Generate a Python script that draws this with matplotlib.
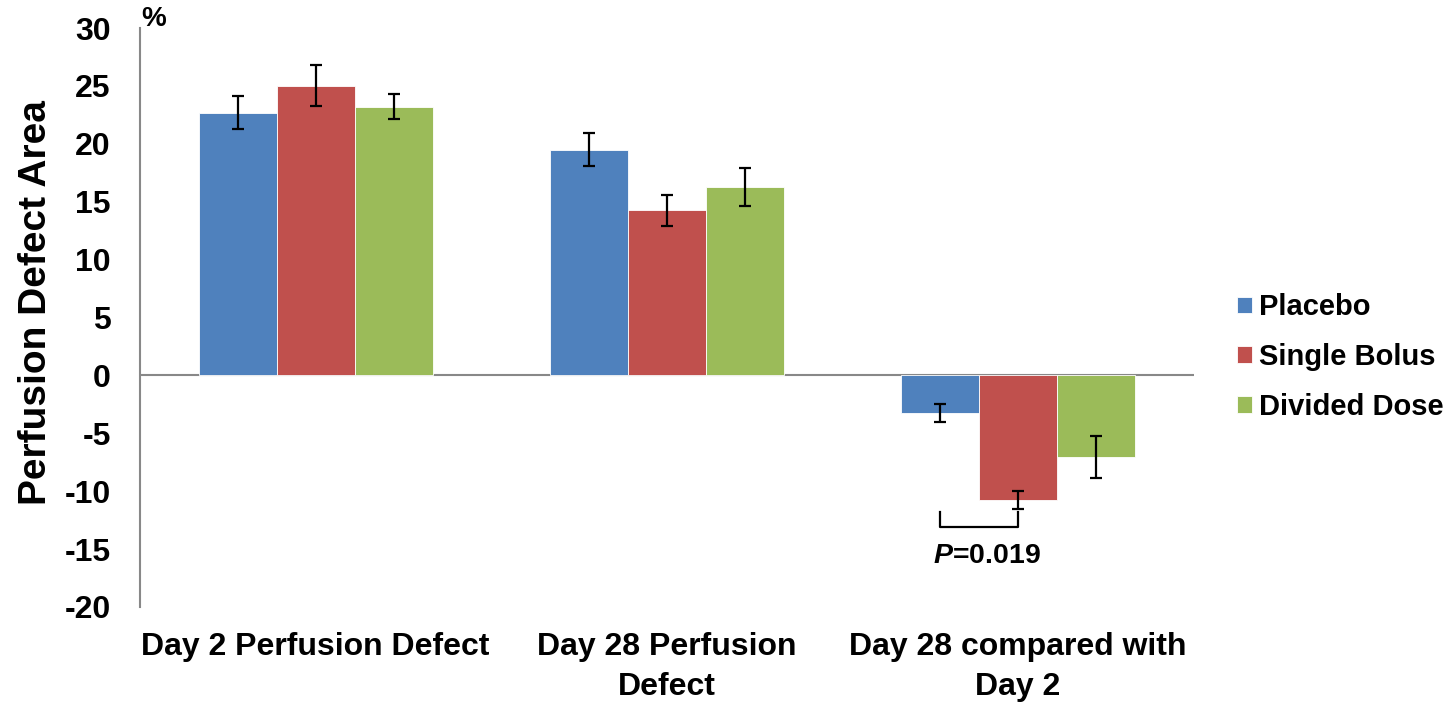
import matplotlib
matplotlib.use("Agg")
import matplotlib.pyplot as plt
import numpy as np

plt.rcParams["font.family"] = ["Liberation Sans", "DejaVu Sans"]
plt.rcParams["font.weight"] = "bold"
plt.rcParams["mathtext.fontset"] = "custom"
plt.rcParams["mathtext.it"] = "Liberation Sans:bold:italic"

categories = ["Day 2 Perfusion Defect", "Day 28 Perfusion\nDefect", "Day 28 compared with\nDay 2"]
series = ["Placebo", "Single Bolus", "Divided Dose"]
colors = ["#4F81BD", "#C0504D", "#9BBB59"]

placebo = [22.7, 19.5, -3.25]
single_bolus = [25.0, 14.25, -10.8]
divided_dose = [23.2, 16.25, -7.05]

placebo_err = [1.45, 1.42, 0.76]
single_bolus_err = [1.77, 1.31, 0.78]
divided_dose_err = [1.08, 1.62, 1.84]

yticks = [30, 25, 20, 15, 10, 5, 0, -5, -10, -15, -20]

fig = plt.figure(figsize=(14.51, 7.07), dpi=100)
ax = fig.add_axes([140 / 1451, 1 - 607 / 707, (1193.5 - 140) / 1451, (607 - 28) / 707])

x = np.arange(len(categories))
width = 0.222
values = [placebo, single_bolus, divided_dose]
errs = [placebo_err, single_bolus_err, divided_dose_err]
for i, (vals, err, name, col) in enumerate(zip(values, errs, series, colors)):
    pos = x + (i - 1) * width
    ax.bar(pos, vals, width, color=col, edgecolor="white", linewidth=0.6, label=name, zorder=2)
    ax.errorbar(pos, vals, yerr=err, fmt="none", ecolor="black", elinewidth=1.6,
                capsize=4.5, capthick=1.6, zorder=3)

ax.set_xlim(-0.5, 2.5)
ax.set_ylim(-20, 30)
ax.set_yticks(yticks)
ax.set_yticklabels([str(t) for t in yticks], fontsize=23, fontweight="bold")
ax.tick_params(axis="y", length=0, pad=21)
ax.tick_params(axis="x", length=0, pad=18)
ax.set_xticks(x)
ax.set_xticklabels(categories, fontsize=23, fontweight="bold", linespacing=1.45)

for s in ["top", "right", "bottom"]:
    ax.spines[s].set_visible(False)
ax.spines["left"].set_color("#888888")
ax.spines["left"].set_linewidth(1.5)
ax.axhline(0, color="#888888", linewidth=1.5, zorder=1)

ax.set_ylabel("Perfusion Defect Area", fontsize=28, fontweight="bold")
ax.yaxis.set_label_coords(-(140 - 54) / 1053.5, (607 - 303) / 579)
fig.text(141 / 1451, 1 - 19 / 707, "%", fontsize=20, fontweight="bold", ha="left", va="center")

# significance bracket between placebo and single bolus
bx0 = x[2] - width
bx1 = x[2]
ax.plot([bx0, bx0, bx1, bx1], [-11.8, -13.05, -13.05, -11.8], color="black", linewidth=1.6, zorder=3)
ax.text((bx0 + bx1) / 2 + 0.023, -15.6, r"$\mathit{P}$=0.019", fontsize=20.5, fontweight="bold",
        ha="center", va="center")

leg = fig.legend(loc="center left", bbox_to_anchor=(1237 / 1451, 1 - 357 / 707), frameon=False,
                 prop={"size": 21, "weight": "bold"}, handlelength=0.5, handleheight=0.5,
                 handletextpad=0.25, labelspacing=0.74, borderpad=0, borderaxespad=0)

fig.savefig("out.png", dpi=100)
